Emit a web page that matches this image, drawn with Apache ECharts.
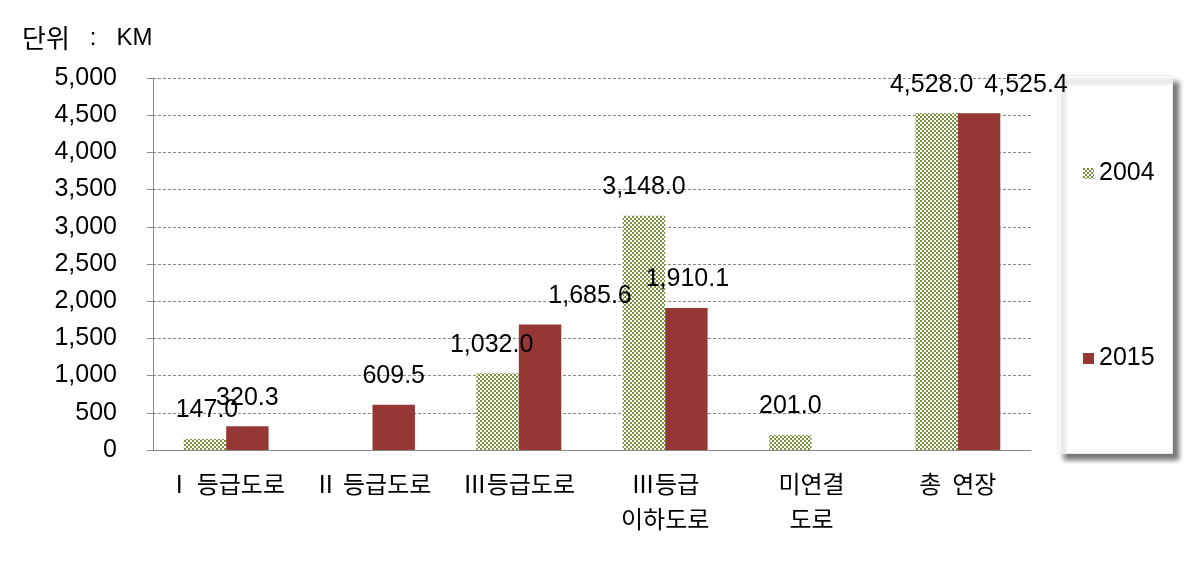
<!DOCTYPE html>
<html>
<head>
<meta charset="utf-8">
<script src="https://cdn.jsdelivr.net/npm/echarts@6/dist/echarts.min.js"></script>
<style>
  html, body { margin: 0; padding: 0; background: #fff; }
  #chart { width: 1189px; height: 562px; }
</style>
</head>
<body>
<div id="chart"></div>
<script>
    // chart data
    let categories = ['Ⅰ 등급도로', 'Ⅱ 등급도로', 'Ⅲ등급도로', 'Ⅲ등급\n이하도로', '미연결\n도로', '총  연장'];
    let values2004 = [147.0, null, 1032.0, 3148.0, 201.0, 4528.0];
    let values2015 = [320.3, 609.5, 1685.6, 1910.1, null, 4525.4];
    let seriesNames = ['2004', '2015'];

    // label nudges (x px) to mimic the hand-placed labels
    let shift2004 = [2, 0, -6, 0, 0, -5];
    let shift2015 = [0, 0, 50, 1, 0, 47];

    let font = 'Liberation Sans, Arial, sans-serif';
    let krFont = '"Noto Sans CJK KR", sans-serif';

    // checkered fill for 2004
    function checker(){
        let c = document.createElement('canvas');
        c.width = 4; c.height = 4;
        let ctx = c.getContext('2d');
        ctx.fillStyle = '#ffffff';
        ctx.fillRect(0, 0, 4, 4);
        ctx.fillStyle = '#77933c';
        ctx.fillRect(0, 0, 2, 2);
        ctx.fillRect(2, 2, 2, 2);
        return c;
    }
    let pattern = {image: checker(), repeat: 'repeat'};

    function fmt(v){
        return Number(v).toLocaleString('en-US', {minimumFractionDigits: 1, maximumFractionDigits: 1});
    }

    function build(values, shifts){
        return values.map(function(v, i){
            return {value: v, label: {offset: [shifts[i], 0]}};
        });
    }

    let chart = echarts.init(document.getElementById('chart'));
    chart.setOption({
        animation: false,
        graphic: [
            {
                type: 'text', left: 22, top: 25,
                style: {
                    text: '{k|단위}   :   {m|KM}',
                    fill: '#000',
                    font: '24px ' + font,
                    rich: {
                        k: {fontFamily: krFont, fontSize: 26, color: '#000'},
                        m: {fontFamily: font, fontSize: 24, color: '#000'}
                    }
                }
            },
            {
                type: 'rect', left: 1057, top: 75, z: -1,
                shape: {width: 115, height: 378},
                style: {fill: '#fff', stroke: '#ececec', lineWidth: 1,
                    shadowBlur: 5, shadowOffsetX: 6, shadowOffsetY: 6, shadowColor: 'rgba(0,0,0,0.55)'}
            }
        ],
        legend: {
            orient: 'vertical',
            left: 1078,
            top: 156,
            itemGap: 160,
            itemWidth: 11,
            itemHeight: 11,
            icon: 'rect',
            textStyle: {fontFamily: font, fontSize: 25, color: '#000'},
            data: seriesNames
        },
        grid: {left: 153, right: 158, top: 78, bottom: 112},
        xAxis: {
            type: 'category',
            data: categories,
            axisLine: {lineStyle: {color: '#888'}},
            axisTick: {show: false},
            axisLabel: {fontFamily: krFont, fontSize: 24, color: '#000', margin: 16, lineHeight: 35, interval: 0}
        },
        yAxis: {
            type: 'value',
            min: 0,
            max: 5000,
            interval: 500,
            axisLine: {show: true, lineStyle: {color: '#888'}},
            axisTick: {show: true, length: 6, lineStyle: {color: '#888'}},
            splitLine: {lineStyle: {color: '#888', type: [3, 2]}},
            axisLabel: {
                fontFamily: font, fontSize: 25, color: '#000', margin: 36,
                formatter: function(v){ return v.toLocaleString('en-US'); }
            }
        },
        series: [
            {
                name: seriesNames[0],
                type: 'bar',
                data: build(values2004, shift2004),
                barGap: '0%',
                barCategoryGap: '42%',
                itemStyle: {color: pattern},
                label: {
                    show: true, position: 'top', distance: 16,
                    fontFamily: font, fontSize: 25, color: '#000',
                    formatter: function(p){ return fmt(p.value); }
                }
            },
            {
                name: seriesNames[1],
                type: 'bar',
                data: build(values2015, shift2015),
                itemStyle: {color: '#953735'},
                label: {
                    show: true, position: 'top', distance: 16,
                    fontFamily: font, fontSize: 25, color: '#000',
                    formatter: function(p){ return fmt(p.value); }
                }
            }
        ]
    });
</script>
</body>
</html>
